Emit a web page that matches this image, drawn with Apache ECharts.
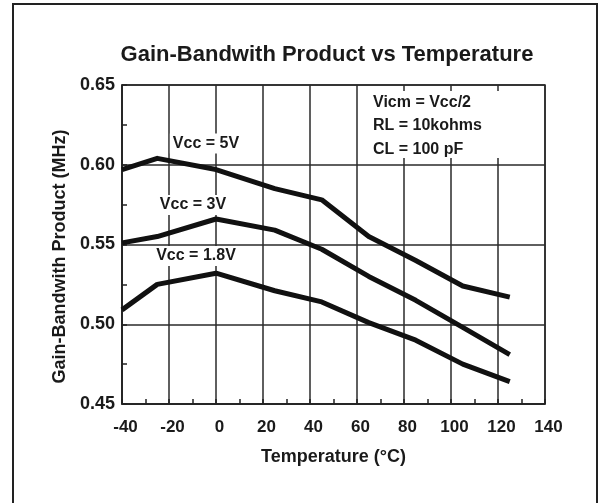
<!DOCTYPE html>
<html>
<head>
<meta charset="utf-8">
<script src="https://cdn.jsdelivr.net/npm/echarts@6/dist/echarts.min.js"></script>
<style>
html,body{margin:0;padding:0;background:#fff;}
#chart{width:601px;height:503px;}
</style>
</head>
<body>
<div id="chart"></div>
<script>
// Data
var temperatures = [-40, -25, 0, 25, 45, 65, 85, 105, 125];
var gbw5V  = [0.597, 0.604, 0.597, 0.585, 0.578, 0.555, 0.540, 0.524, 0.517];
var gbw3V  = [0.551, 0.555, 0.566, 0.559, 0.547, 0.530, 0.515, 0.498, 0.481];
var gbw18V = [0.509, 0.525, 0.532, 0.521, 0.514, 0.501, 0.490, 0.475, 0.464];
var seriesNames = ['Vcc = 5V', 'Vcc = 3V', 'Vcc = 1.8V'];
var conditionLines = ['Vicm = Vcc/2', 'RL = 10kohms', 'CL = 100 pF'];

function pairs(xs, ys) { return xs.map(function (x, i) { return [x, ys[i]]; }); }

var FONT = '"Liberation Sans", Arial, Helvetica, sans-serif';
var INK = '#1a1a1a';

var chart = echarts.init(document.getElementById('chart'), null, {renderer: 'canvas'});

function lineSeries(name, vals) {
  return {
    name: name, type: 'line', data: pairs(temperatures, vals),
    symbol: 'none', smooth: false,
    lineStyle: {color: '#111', width: 5, join: 'round'},
    z: 3
  };
}

var option = {
  backgroundColor: '#fff',
  animation: false,
  title: {
    text: 'Gain-Bandwith Product vs Temperature',
    left: 327, top: 44, textAlign: 'center', padding: 0,
    textStyle: {fontFamily: FONT, fontWeight: 'bold', fontSize: 22, color: INK}
  },
  grid: {
    left: 122, right: 56, top: 85, bottom: 99,
    show: true, borderColor: '#222', borderWidth: 1.5, backgroundColor: 'transparent'
  },
  xAxis: {
    type: 'value', min: -40, max: 140, interval: 20,
    name: 'Temperature (°C)', nameLocation: 'middle', nameGap: 44,
    nameTextStyle: {fontFamily: FONT, fontWeight: 'bold', fontSize: 18, color: INK},
    axisLine: {show: true, onZero: false, lineStyle: {color: '#222', width: 1.5}},
    axisTick: {show: true, inside: true, length: 5, lineStyle: {color: '#222', width: 1.5}},
    minorTick: {show: true, splitNumber: 2, length: 5, lineStyle: {color: '#222', width: 1.5}},
    splitLine: {show: true, lineStyle: {color: '#2a2a2a', width: 1.5}},
    axisLabel: {fontFamily: FONT, fontWeight: 'bold', fontSize: 17, color: INK, margin: 15, padding: [0, 0, 0, 7]}
  },
  yAxis: {
    type: 'value', min: 0.45, max: 0.65, interval: 0.05,
    name: 'Gain-Bandwith Product (MHz)', nameLocation: 'middle', nameGap: 53,
    nameTextStyle: {fontFamily: FONT, fontWeight: 'bold', fontSize: 18, color: INK, padding: [0, 24, 0, 0]},
    axisLine: {show: true, onZero: false, lineStyle: {color: '#222', width: 1.5}},
    axisTick: {show: true, inside: true, length: 5, lineStyle: {color: '#222', width: 1.5}},
    minorTick: {show: true, splitNumber: 2, length: 5, lineStyle: {color: '#222', width: 1.5}},
    splitLine: {show: true, lineStyle: {color: '#2a2a2a', width: 1.5}},
    axisLabel: {fontFamily: FONT, fontWeight: 'bold', fontSize: 18, color: INK, margin: 7,
      formatter: function (v) { return v.toFixed(2); }}
  },
  series: [
    lineSeries(seriesNames[0], gbw5V),
    lineSeries(seriesNames[1], gbw3V),
    lineSeries(seriesNames[2], gbw18V)
  ],
  graphic: [
    {type: 'rect', z: 100, silent: true,
      shape: {x: 13, y: 4, width: 584, height: 530},
      style: {fill: 'none', stroke: '#222', lineWidth: 2}},
    {type: 'rect', z: 50, silent: true,
      shape: {x: 358, y: 91, width: 185, height: 67},
      style: {fill: '#fff'}},
    {type: 'text', z: 51, x: 373, y: 102.5,
      style: {text: conditionLines[0], font: 'bold 16px ' + FONT, fill: INK, align: 'left', verticalAlign: 'middle'}},
    {type: 'text', z: 51, x: 373, y: 126,
      style: {text: conditionLines[1], font: 'bold 16px ' + FONT, fill: INK, align: 'left', verticalAlign: 'middle'}},
    {type: 'text', z: 51, x: 373, y: 149.5,
      style: {text: conditionLines[2], font: 'bold 16px ' + FONT, fill: INK, align: 'left', verticalAlign: 'middle'}},
    {type: 'text', z: 51, x: 206, y: 143.5,
      style: {text: seriesNames[0], font: 'bold 16px ' + FONT, fill: INK, align: 'center', verticalAlign: 'middle',
        backgroundColor: '#fff', padding: [2, 3]}},
    {type: 'text', z: 51, x: 193, y: 205,
      style: {text: seriesNames[1], font: 'bold 16px ' + FONT, fill: INK, align: 'center', verticalAlign: 'middle',
        backgroundColor: '#fff', padding: [2, 3]}},
    {type: 'text', z: 51, x: 196, y: 256,
      style: {text: seriesNames[2], font: 'bold 16px ' + FONT, fill: INK, align: 'center', verticalAlign: 'middle',
        backgroundColor: '#fff', padding: [2, 3]}}
  ]
};
chart.setOption(option);
</script>
</body>
</html>
